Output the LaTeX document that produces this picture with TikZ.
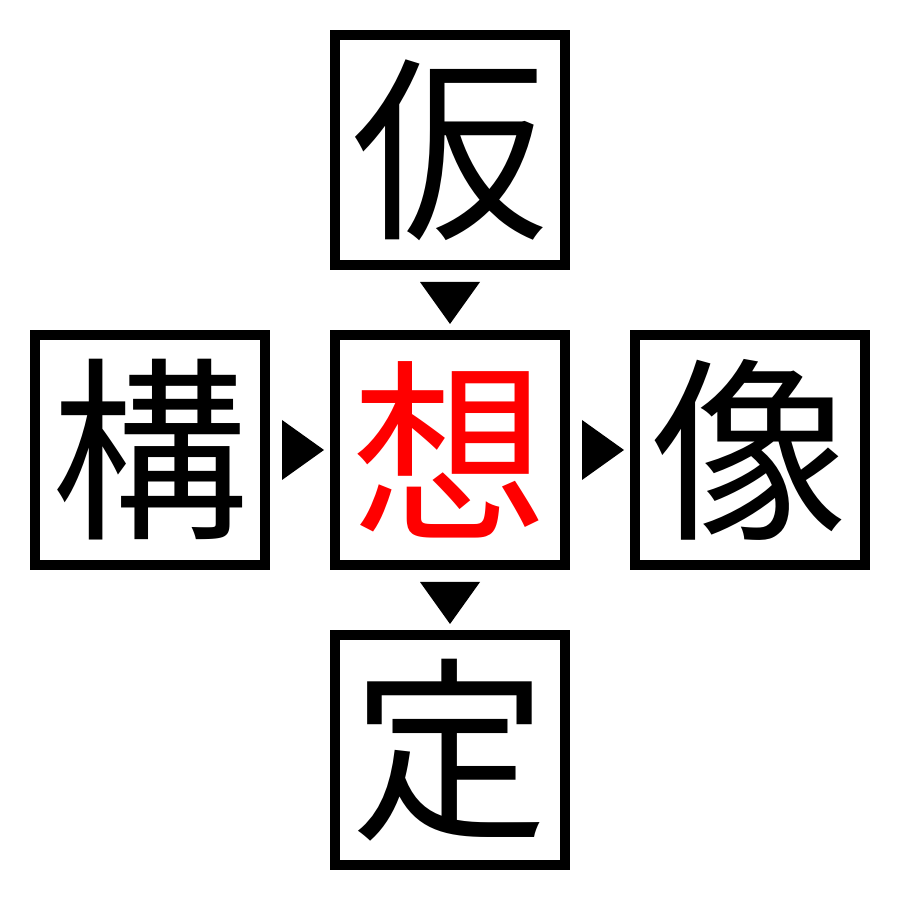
\documentclass[tikz,border=0pt]{standalone}
\usepackage{fontspec}
\newfontfamily\cjk{Noto Sans CJK JP}
\usetikzlibrary{positioning,calc}

\begin{document}
\begin{tikzpicture}[
		kanji/.style={draw,rectangle,line width=1mm,minimum size=2.3cm,inner sep=0pt,font=\cjk\fontsize{56}{56}\selectfont}
	]
		\useasboundingbox (0,0) rectangle (9,9);
		\node[kanji,text=red] at (4.5,4.5) (c) {想};
		\node[kanji,above=0.6cm of c] (top) {仮};
		\node[kanji,left=0.6cm of c] (left) {構};
		\node[kanji,right=0.6cm of c] (right) {像};
		\node[kanji,below=0.6cm of c] (bottom) {定};

		\fill ($(top.south)+(-0.3,-0.12)$) -- ($(top.south)+(0.3,-0.12)$) -- ($(top.south)+(0,-0.54)$) -- cycle;
		\fill ($(c.south)+(-0.3,-0.12)$) -- ($(c.south)+(0.3,-0.12)$) -- ($(c.south)+(0,-0.54)$) -- cycle;
		\fill ($(left.east)+(0.12,0.3)$) -- ($(left.east)+(0.12,-0.3)$) -- ($(left.east)+(0.54,0)$) -- cycle;
		\fill ($(c.east)+(0.12,0.3)$) -- ($(c.east)+(0.12,-0.3)$) -- ($(c.east)+(0.54,0)$) -- cycle;
	\end{tikzpicture}
\end{document}
